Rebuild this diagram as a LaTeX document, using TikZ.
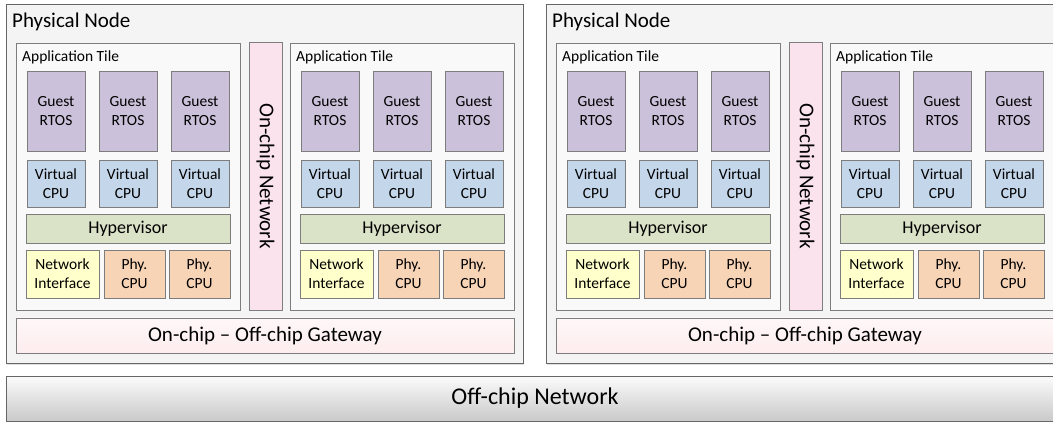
\documentclass[tikz,border=0pt]{standalone}
\usepackage{fontspec}
\setmainfont{Carlito}
\usetikzlibrary{shadows}

\definecolor{linecol}{RGB}{125,125,125}
\definecolor{rtoscol}{RGB}{204,193,218}
\definecolor{vcpucol}{RGB}{196,214,234}
\definecolor{hypcol}{RGB}{218,227,199}
\definecolor{nicol}{RGB}{255,255,204}
\definecolor{phycol}{RGB}{248,212,183}
\definecolor{noccol}{RGB}{250,227,237}
\definecolor{gwcol}{RGB}{249,203,206}

\tikzset{
  box/.style={draw=linecol, line width=0.8pt, inner sep=0pt, align=center,
    font=\fontsize{15.5}{19}\selectfont},
  rtos/.style={box, fill=rtoscol, minimum width=58pt, minimum height=80pt},
  vcpu/.style={box, fill=vcpucol, minimum width=58pt, minimum height=47pt},
  hyp/.style={box, fill=hypcol, minimum width=204pt, minimum height=29pt,
    font=\fontsize{18}{21}\selectfont},
  netif/.style={box, fill=nicol, minimum width=73pt, minimum height=48pt},
  phy/.style={box, fill=phycol, minimum width=61pt, minimum height=48pt},
  tile/.style={box, fill=gray!5, minimum width=224pt, minimum height=267pt},
  noc/.style={box, fill=noccol, minimum width=33pt, minimum height=268pt,
    font=\fontsize{21}{24}\selectfont},
  gateway/.style={box, top color=gwcol!15, middle color=gwcol, bottom color=gwcol!35,
    minimum width=498pt, minimum height=35pt, font=\fontsize{21}{24}\selectfont},
  physnode/.style={draw=gray!80!black, line width=0.8pt, fill=gray!9, inner sep=0pt,
    minimum width=517pt, minimum height=359pt,
    drop shadow={shadow xshift=1pt, shadow yshift=-1.5pt, opacity=0.25}},
  offnet/.style={box, draw=gray!80!black, top color=gray!3, bottom color=gray!42,
    minimum width=1058pt, minimum height=45pt, font=\fontsize{24}{28}\selectfont,
    drop shadow={shadow xshift=1pt, shadow yshift=-1.5pt, opacity=0.25}},
  bigtitle/.style={anchor=west, inner sep=0pt, font=\fontsize{21}{24}\selectfont},
  smalltitle/.style={anchor=west, inner sep=0pt, font=\fontsize{15.5}{19}\selectfont}
}

\begin{document}
\begin{tikzpicture}[x=1pt, y=-1pt]
  \clip (0,0) rectangle (1053,422);

  % Two physical nodes side by side.
  \foreach \p/\px in {1/0, 2/540} {
    \node[physnode] (pn-\p) at ({\px+264.5},183.5) {};
    \node[bigtitle] (pn-title-\p) at ({\px+12},22) {Physical Node};

    % Application tiles.
    \foreach \t/\tx in {1/0, 2/274} {
      \node[tile] (tile-\p-\t) at ({\px+\tx+128},176.5) {};
      \node[smalltitle] (tile-title-\p-\t) at ({\px+\tx+22},57) {Application Tile};

      \foreach \k/\kx in {1/56, 2/128, 3/200} {
        \node[rtos] (rtos-\p-\t-\k) at ({\px+\tx+\kx},111) {Guest\\RTOS};
        \node[vcpu] (vcpu-\p-\t-\k) at ({\px+\tx+\kx},183.5) {Virtual\\CPU};
      }

      \node[hyp] (hyp-\p-\t) at ({\px+\tx+128},228.5) {Hypervisor};
      \node[netif] (ni-\p-\t) at ({\px+\tx+62.5},274) {Network\\Interface};
      \node[phy] (phya-\p-\t) at ({\px+\tx+134.5},274) {Phy.\\CPU};
      \node[phy] (phyb-\p-\t) at ({\px+\tx+199.5},274) {Phy.\\CPU};
    }

    % On-chip network between the tiles.
    \node[noc] (noc-\p) at ({\px+265.5},176) {};
    \node[rotate=-90, inner sep=0pt, font=\fontsize{21}{24}\selectfont]
      (noc-text-\p) at (noc-\p.center) {On-chip Network};

    % Gateway.
    \node[gateway] (gw-\p) at ({\px+265},335.5) {On-chip – Off-chip Gateway};
  }

  % Off-chip network.
  \node[offnet] (offnet) at (535,398.5) {Off-chip Network};
\end{tikzpicture}
\end{document}
